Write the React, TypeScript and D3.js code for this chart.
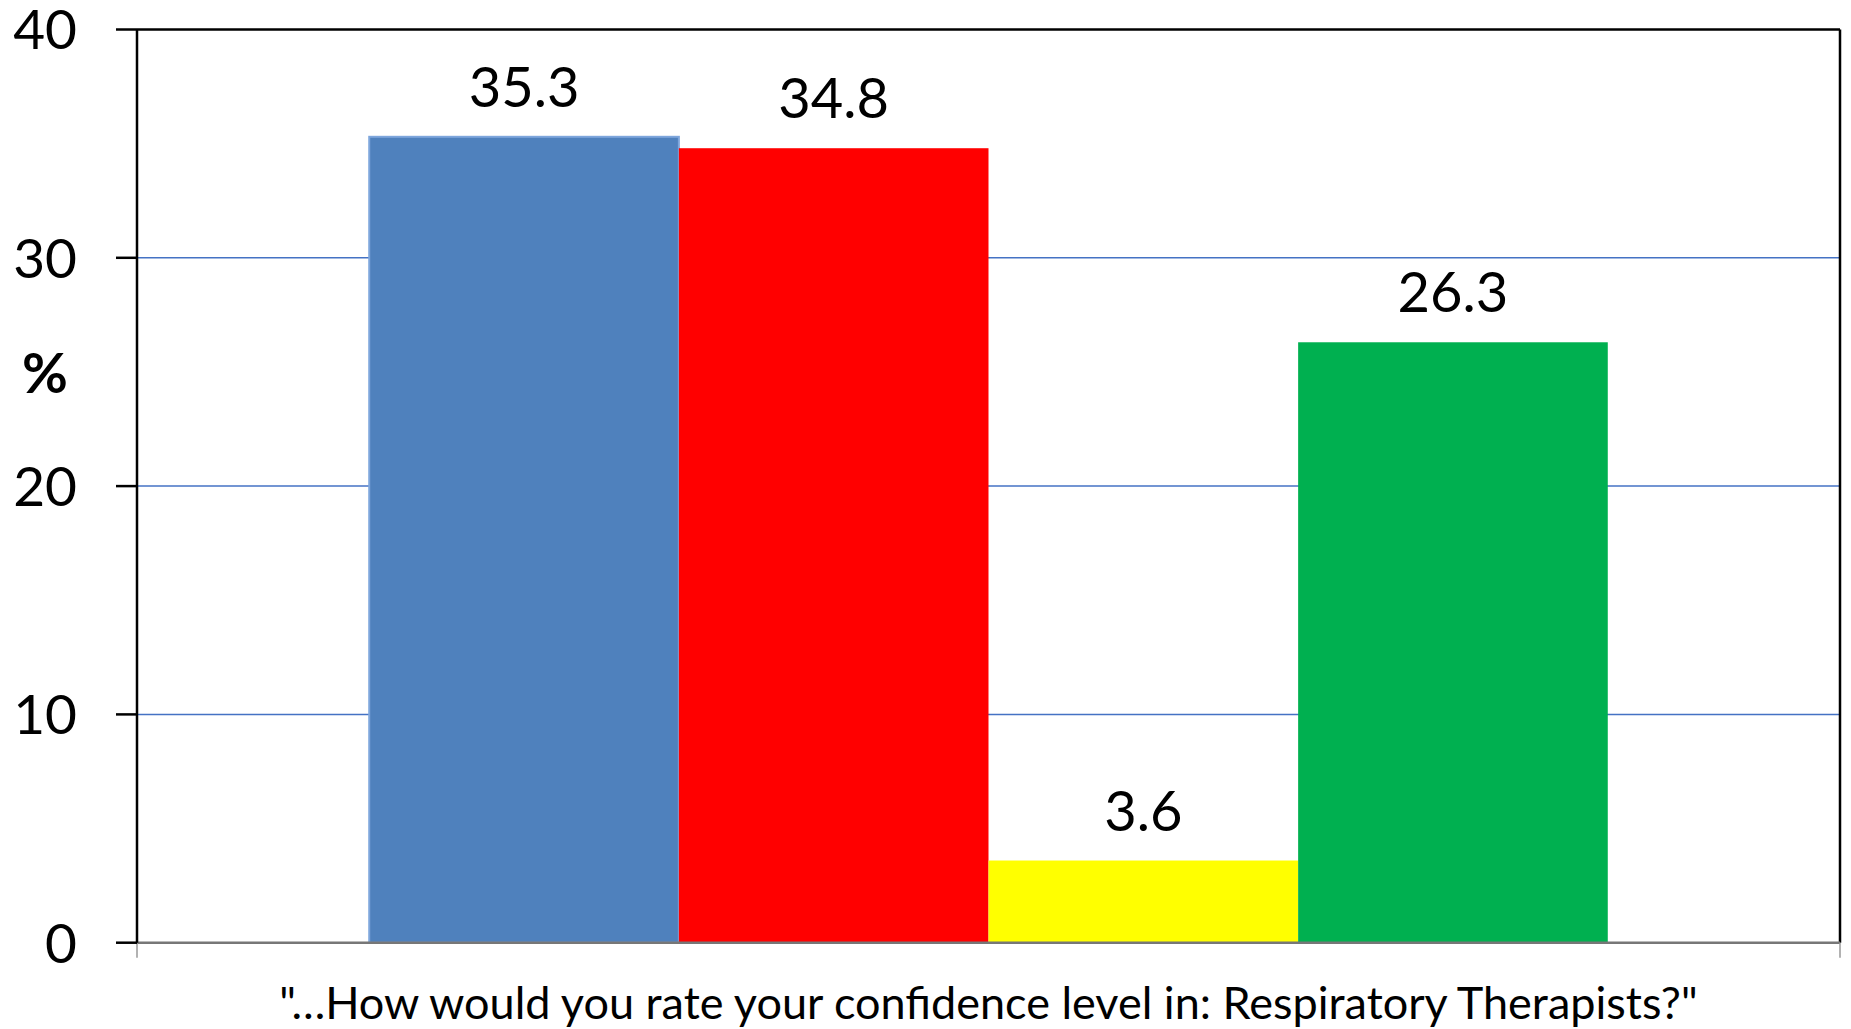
import * as d3 from "d3";

const categories = ["A", "B", "C", "D"];
const values = [35.3, 34.8, 3.6, 26.3];
const barColors = ["#4F81BD", "#FF0000", "#FFFF00", "#00B050"];
const yTicks = [0, 10, 20, 30, 40];
const xTitle = "\"…How would you rate your confidence level in: Respiratory Therapists?\"";

const W = 1851;
const H = 1029;
const left = 137;
const right = 1840;
const top = 29.5;
const bottom = 942.7;
const font = "Lato, 'Open Sans', sans-serif";

export default function App() {
  const y = d3.scaleLinear().domain([0, 40]).range([bottom, top]);
  // Excel style gap width 150% -> 0.75 bar width each side
  const barW = (right - left) / (categories.length + 1.5);
  const barX = d3.scaleBand<string>()
    .domain(categories)
    .range([left + barW * 0.75, right - barW * 0.75])
    .padding(0);

  return (
    <svg width={W} height={H} style={{ position: "absolute", left: 0, top: 0, background: "#fff" }}>
      {/* gridlines */}
      {yTicks.filter((t) => t > 0 && t < 40).map((t) => (
        <line key={t} x1={left} x2={right} y1={y(t)} y2={y(t)} stroke="#4472C4" strokeWidth={1.5} />
      ))}
      {/* bars */}
      {categories.map((c, i) => (
        <rect
          key={c}
          x={barX(c)}
          y={y(values[i])}
          width={barX.bandwidth()}
          height={y(0) - y(values[i])}
          fill={barColors[i]}
          stroke={i === 0 ? "#7EA6DC" : "none"}
          strokeWidth={i === 0 ? 2 : 0}
        />
      ))}
      {/* value labels */}
      {categories.map((c, i) => (
        <text
          key={c}
          x={(barX(c) ?? 0) + barX.bandwidth() / 2}
          y={y(values[i]) - 30}
          textAnchor="middle"
          fontFamily={font}
          fontSize={56}
          fill="#000"
        >
          {values[i].toFixed(1)}
        </text>
      ))}
      {/* plot frame */}
      <line x1={left} x2={right} y1={top} y2={top} stroke="#000" strokeWidth={2.5} />
      <line x1={right} x2={right} y1={top} y2={bottom} stroke="#000" strokeWidth={2.5} />
      <line x1={left} x2={right} y1={bottom} y2={bottom} stroke="#777" strokeWidth={2.5} />
      <line x1={left} x2={left} y1={bottom} y2={bottom + 15} stroke="#999" strokeWidth={1.5} />
      <line x1={right} x2={right} y1={bottom} y2={bottom + 15} stroke="#999" strokeWidth={1.5} />
      <line x1={left} x2={left} y1={top} y2={bottom} stroke="#000" strokeWidth={2.5} />
      {/* y ticks */}
      {yTicks.map((t) => (
        <g key={t}>
          <line x1={116} x2={left} y1={y(t)} y2={y(t)} stroke="#000" strokeWidth={2.5} />
          <text
            x={77}
            y={y(t)}
            dy="0.36em"
            textAnchor="end"
            fontFamily={font}
            fontSize={55}
            fill="#000"
          >
            {t}
          </text>
        </g>
      ))}
      <text x={45} y={373} dy="0.36em" textAnchor="middle" fontFamily={font} fontSize={56} fontWeight="bold" fill="#000">
        %
      </text>
      <text x={(left + right) / 2} y={1019} textAnchor="middle" fontFamily={font} fontSize={45} fill="#000">
        {xTitle}
      </text>
    </svg>
  );
}
